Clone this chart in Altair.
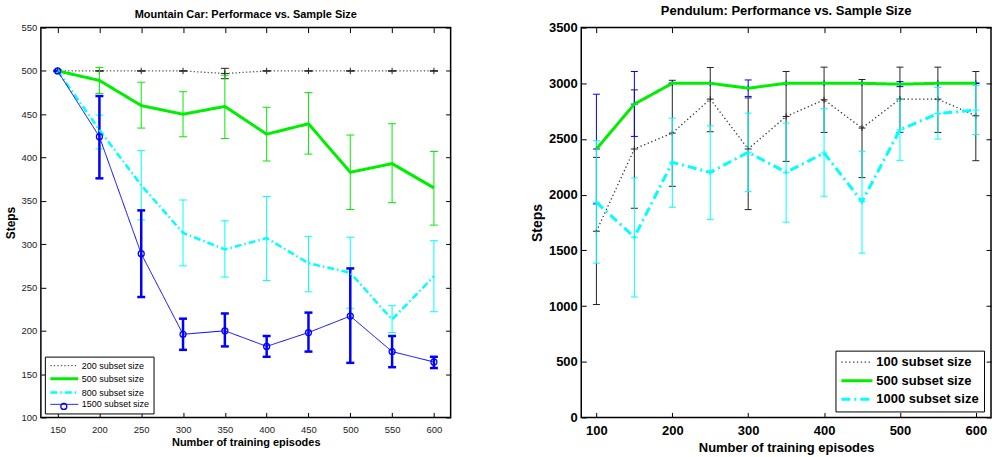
import altair as alt
import pandas as pd

FONT = "Liberation Sans"

# ---------------- Mountain Car (left) ----------------
mc_x = [150, 200, 250, 300, 350, 400, 450, 500, 550, 600]
mc_names = ["200 subset size", "500 subset size", "800 subset size", "1500 subset size"]
mc_200_mean = [500, 500, 500, 500, 497, 500, 500, 500, 500, 500]
mc_200_lo = [500, 500, 500, 500, 491, 500, 500, 500, 500, 500]
mc_200_hi = [500, 500, 500, 500, 503, 500, 500, 500, 500, 500]
mc_500_mean = [500, 489, 460, 450, 459, 427, 439, 383, 393, 365]
mc_500_lo = [500, 474, 434, 424, 422, 396, 404, 340, 348, 322]
mc_500_hi = [500, 504, 487, 476, 495, 458, 475, 426, 439, 407]
mc_800_mean = [500, 432, 368, 313, 294, 307, 278, 267, 213, 263]
mc_800_lo = [500, 410, 328, 275, 262, 258, 245, 226, 198, 222]
mc_800_hi = [500, 449, 408, 351, 327, 355, 309, 308, 229, 304]
mc_1500_mean = [500, 424, 289, 196, 200, 182, 198, 217, 176, 164]
mc_1500_lo = [500, 376, 239, 178, 182, 170, 176, 163, 158, 157]
mc_1500_hi = [500, 471, 339, 214, 220, 194, 221, 272, 194, 170]
mc_xticks = [150, 200, 250, 300, 350, 400, 450, 500, 550, 600]
mc_yticks = [100, 150, 200, 250, 300, 350, 400, 450, 500, 550]

# ---------------- Pendulum (right) ----------------
pd_x = [100, 150, 200, 250, 300, 350, 400, 450, 500, 550, 600]
pd_names = ["100 subset size", "500 subset size", "1000 subset size"]
pd_100_mean = [1672, 2410, 2553, 2858, 2410, 2702, 2852, 2598, 2858, 2858, 2708]
pd_100_lo = [1014, 1878, 2075, 2565, 1866, 2299, 2559, 2153, 2559, 2559, 2305]
pd_100_hi = [2335, 2941, 3027, 3142, 2869, 3106, 3145, 3034, 3145, 3145, 3106]
pd_500_mean = [2410, 2813, 3000, 3000, 2956, 3000, 3000, 3000, 2992, 3000, 3000]
pd_500_lo = [1917, 2523, 3000, 3000, 2882, 3000, 3000, 3000, 2970, 3000, 3000]
pd_500_hi = [2902, 3106, 3000, 3000, 3030, 3000, 3000, 3000, 3015, 3000, 3000]
pd_1000_mean = [1932, 1618, 2290, 2201, 2380, 2201, 2374, 1938, 2583, 2729, 2759]
pd_1000_lo = [1385, 1081, 1887, 1776, 2027, 1753, 1986, 1475, 2308, 2499, 2541]
pd_1000_hi = [2484, 2150, 2687, 2618, 2732, 2642, 2774, 2389, 2858, 2962, 2980]
pd_xticks = [100, 200, 300, 400, 500, 600]
pd_yticks = [0, 500, 1000, 1500, 2000, 2500, 3000, 3500]


def long_frame(xs, names, means, los, his):
    rows = []
    for name, m, l, h in zip(names, means, los, his):
        for x, mv, lv, hv in zip(xs, m, l, h):
            rows.append({"x": x, "series": name, "mean": mv, "lo": lv, "hi": hv})
    return pd.DataFrame(rows)


mc_df = long_frame(mc_x, mc_names,
                   [mc_200_mean, mc_500_mean, mc_800_mean, mc_1500_mean],
                   [mc_200_lo, mc_500_lo, mc_800_lo, mc_1500_lo],
                   [mc_200_hi, mc_500_hi, mc_800_hi, mc_1500_hi])
pd_df = long_frame(pd_x, pd_names,
                   [pd_100_mean, pd_500_mean, pd_1000_mean],
                   [pd_100_lo, pd_500_lo, pd_1000_lo],
                   [pd_100_hi, pd_500_hi, pd_1000_hi])

W, H = 411, 391
CAP = "M-1,0L1,0"
PLUS = "M-1,0L1,0M0,-0.8L0,0.8"


def make_axis(title, values, fs, fw, tfs, lpad, tpad, length, color):
    return alt.Axis(values=values, title=title, grid=True, gridColor="black",
                    gridWidth=1, gridOpacity=1, gridDash=[5, length - 10, 5, 0],
                    ticks=False, domain=False, labelFont=FONT, labelFontSize=fs,
                    labelFontWeight=fw, labelColor=color, labelPadding=lpad,
                    labelFlush=False, labelOverlap=False, titleFont=FONT,
                    titleFontSize=tfs, titleFontWeight="bold", titleColor="black",
                    titlePadding=tpad, format="d")


def error_layers(base, name, xenc, yenc, color, width, capsize, plus):
    sub = base.transform_filter(alt.datum.series == name)
    out = [
        sub.mark_rule(strokeWidth=width, color=color).encode(x=xenc(), y=yenc("lo"), y2="hi:Q"),
        sub.mark_point(shape=CAP, filled=False, size=capsize, strokeWidth=width, color=color,
                       opacity=1).encode(x=xenc(), y=yenc("lo")),
        sub.mark_point(shape=CAP, filled=False, size=capsize, strokeWidth=width, color=color,
                       opacity=1).encode(x=xenc(), y=yenc("hi")),
    ]
    if plus:
        out.append(sub.mark_point(shape=PLUS, filled=False, size=capsize, strokeWidth=1, color=color,
                                  opacity=1).encode(x=xenc(), y=yenc("mean")))
    return out


# ---------- left panel ----------
mc_xs = alt.Scale(domain=[130, 620], nice=False, zero=False)
mc_ys = alt.Scale(domain=[100, 550], nice=False, zero=False)
mc_xax = make_axis("Number of training episodes", mc_xticks, 9.5, "normal", 11, 7, 3, H, "#222222")
mc_yax = make_axis("Steps", mc_yticks, 9.5, "normal", 12, 4, 4, W, "#222222")


def mcX():
    return alt.X("x:Q", scale=mc_xs, axis=mc_xax)


def mcY(f):
    return alt.Y(f + ":Q", scale=mc_ys, axis=mc_yax)


mc_ecolors = ["#222222", "#00ee00", "#00ffff", "#0000ff"]
mc_ewidths = [1, 1, 1, 2.5]
mc_plus = [True, False, False, False]
mc_lcolors = ["#555555", "#00ee00", "#00ffff", "#0000ff"]
mc_dash = [[1.3, 2.2], [1, 0], [7, 3, 1.5, 3], [1, 0]]
mc_width = [1.3, 3, 2.5, 1]

mc_legend = alt.Legend(title=None, orient="none", legendX=4, legendY=330,
                       symbolType="M-3.5,0L3.5,0", symbolSize=64, symbolOffset=10,
                       labelOffset=12, labelFont=FONT, labelFontSize=9, labelColor="black",
                       rowPadding=1.8, padding=4, strokeColor="black", fillColor="white")

mc_base = alt.Chart(mc_df)
mc_layers = []
for nm, ec, ew, pl in zip(mc_names, mc_ecolors, mc_ewidths, mc_plus):
    mc_layers += error_layers(mc_base, nm, mcX, mcY, ec, ew, 64, pl)

mc_lines = mc_base.mark_line().encode(
    x=mcX(), y=mcY("mean"),
    color=alt.Color("series:N", scale=alt.Scale(domain=mc_names, range=mc_lcolors), legend=mc_legend),
    strokeDash=alt.StrokeDash("series:N", scale=alt.Scale(domain=mc_names, range=mc_dash), legend=mc_legend),
    strokeWidth=alt.StrokeWidth("series:N", scale=alt.Scale(type="ordinal", domain=mc_names, range=mc_width),
                                legend=mc_legend),
)
mc_circ = mc_base.transform_filter(alt.datum.series == "1500 subset size").transform_calculate(
    mk="datum.series").mark_point(filled=False, size=36, strokeWidth=1.3, color="#0000ff", opacity=1).encode(
    x=mcX(), y=mcY("mean"),
    shape=alt.Shape("mk:N", scale=alt.Scale(domain=["1500 subset size"], range=["circle"]),
                    legend=alt.Legend(title=None, orient="none", legendX=19, legendY=376,
                                      symbolSize=36, symbolStrokeColor="#0000ff",
                                      symbolFillColor="white", symbolStrokeWidth=1.3,
                                      labelExpr="''", labelFontSize=1, padding=0, zindex=2)),
)

left = alt.layer(*mc_layers, mc_lines, mc_circ).properties(
    width=W, height=H,
    title=alt.TitleParams("Mountain Car: Performace vs. Sample Size", font=FONT, fontSize=11,
                          fontWeight="bold", color="black", offset=3, anchor="middle"))

# ---------- right panel ----------
pd_xs = alt.Scale(domain=[80, 620], nice=False, zero=False)
pd_ys = alt.Scale(domain=[0, 3500], nice=False, zero=False)
pd_xax = make_axis("Number of training episodes", pd_xticks, 13, "bold", 13, 7, 4, H, "black")
pd_yax = make_axis("Steps", pd_yticks, 13, "bold", 14, 4, 4, W, "black")


def pdX():
    return alt.X("x:Q", scale=pd_xs, axis=pd_xax)


def pdY(f):
    return alt.Y(f + ":Q", scale=pd_ys, axis=pd_yax)


pd_ecolors = ["#222222", "#0000ff", "#00ffff"]
pd_lcolors = ["#333333", "#00ee00", "#00ffff"]
pd_dash = [[1.3, 2.6], [1, 0], [9, 4, 2, 4]]
pd_width = [1.3, 3, 3]

pd_legend = alt.Legend(title=None, orient="none", legendX=255, legendY=324,
                       symbolType="M-3.9,0L3.9,0", symbolSize=64, symbolOffset=10,
                       labelOffset=13, labelFont=FONT, labelFontSize=13, labelFontWeight="bold",
                       labelColor="black", rowPadding=4.6, padding=5, strokeColor="black",
                       fillColor="white")

pd_base = alt.Chart(pd_df)
pd_layers = []
for nm, ec in zip(pd_names, pd_ecolors):
    pd_layers += error_layers(pd_base, nm, pdX, pdY, ec, 1, 49, True)

pd_lines = pd_base.mark_line().encode(
    x=pdX(), y=pdY("mean"),
    color=alt.Color("series:N", scale=alt.Scale(domain=pd_names, range=pd_lcolors), legend=pd_legend),
    strokeDash=alt.StrokeDash("series:N", scale=alt.Scale(domain=pd_names, range=pd_dash), legend=pd_legend),
    strokeWidth=alt.StrokeWidth("series:N", scale=alt.Scale(type="ordinal", domain=pd_names, range=pd_width),
                                legend=pd_legend),
)

right = alt.layer(*pd_layers, pd_lines).properties(
    width=W, height=H,
    title=alt.TitleParams("Pendulum: Performance vs. Sample Size", font=FONT, fontSize=13,
                          fontWeight="bold", color="black", offset=4, anchor="middle"))

chart = alt.hconcat(left, right, spacing=78).resolve_scale(
    color="independent", strokeDash="independent", strokeWidth="independent",
    shape="independent").properties(
    padding={"left": 3, "top": 3, "right": 0, "bottom": 0},
    background="white",
).configure_view(stroke="black", strokeWidth=1.5)

chart.save("out.html", embed_options={"renderer": "svg", "actions": False})
